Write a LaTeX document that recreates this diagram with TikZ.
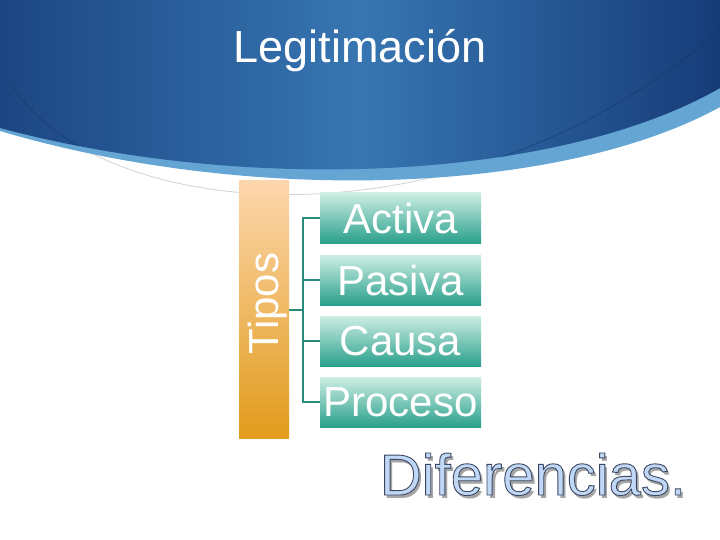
\documentclass[tikz,border=0pt]{standalone}
\usepackage{fontspec}
\setmainfont{Liberation Sans}
\definecolor{bandlight}{RGB}{100,165,212}
\definecolor{blueL}{RGB}{28,70,130}
\definecolor{blueM}{RGB}{55,118,178}
\definecolor{blueR}{RGB}{22,60,120}
\definecolor{barTop}{RGB}{252,214,172}
\definecolor{barBot}{RGB}{226,156,28}
\definecolor{boxTop}{RGB}{205,238,228}
\definecolor{boxBot}{RGB}{42,160,140}
\definecolor{linkcol}{RGB}{40,140,125}
\definecolor{difFill}{RGB}{192,216,246}
\definecolor{difShadow}{RGB}{165,165,165}
\definecolor{arcgrey}{RGB}{210,210,210}
\tikzset{
  typebox/.style={minimum width=161pt, minimum height=50pt, inner sep=0pt,
    top color=boxTop, bottom color=boxBot, text=white,
    font=\fontsize{42}{42}\selectfont},
  link/.style={draw=linkcol, line width=1.5pt},
}
\newcommand{\diftext}{Diferencias.}
\newcommand{\outlinedtext}[1]{%
  {\color{difFill}\special{pdf:literal direct 2 Tr 0.9 w 0.235 0.282 0.384 RG}#1\special{pdf:literal direct 0 Tr}}}
\begin{document}
\begin{tikzpicture}[x=1pt,y=-1pt]
\useasboundingbox (0,0) rectangle (720,540);
\fill[white] (0,0) rectangle (720,540);
% thin grey arc
\draw[arcgrey, line width=0.8pt] (12,85) .. controls (100,225) and (460,255) .. (720,30);
% banner light band
\fill[bandlight] (0,0) -- (720,0) -- (720,107) .. controls (560,195) and (250,205) .. (0,131) -- cycle;
% banner main
\shade[left color=blueL, right color=blueR, middle color=blueM]
  (0,0) -- (720,0) -- (720,88) .. controls (560,180) and (250,195) .. (0,128) -- cycle;
% arc inside the banner
\begin{scope}
\clip (0,0) -- (720,0) -- (720,88) .. controls (560,180) and (250,195) .. (0,128) -- cycle;
\draw[blueR!85!black, opacity=0.5, line width=0.8pt] (12,85) .. controls (100,225) and (460,255) .. (720,30);
\end{scope}
% title
\node[text=white, anchor=base, inner sep=0pt, font=\fontsize{45}{45}\selectfont] (title) at (360,63) {Legitimación};
% Tipos bar
\node[minimum width=50pt, minimum height=257pt, inner sep=0pt, top color=barTop, bottom color=barBot] (bar) at (264,309.5) {};
\node[rotate=90, anchor=base, inner sep=0pt, text=white, font=\fontsize{42}{42}\selectfont] (tipos) at (278,303.5) {Tipos};
% boxes
\node[typebox] (activa) at (400.5,218) {Activa};
\node[typebox] (pasiva) at (400.5,280) {Pasiva};
\node[typebox] (causa) at (400.5,341) {Causa};
\node[typebox] (proceso) at (400.5,402) {Proceso};
% connectors
\coordinate (j) at (303,310);
\draw[link] (bar.east |- j) -- (j);
\foreach \n in {activa,pasiva,causa,proceso}{
  \draw[link] (j) |- (\n.west);
}
% Diferencias. (shadow + outlined text in one node)
\node[anchor=base, inner sep=0pt, font=\fontsize{58}{58}\selectfont] (dif) at (533,495)
  {\makebox[0pt][l]{\hspace{3pt}\raisebox{-3pt}{\color{difShadow}\diftext}}\outlinedtext{\diftext}};
\end{tikzpicture}
\end{document}
